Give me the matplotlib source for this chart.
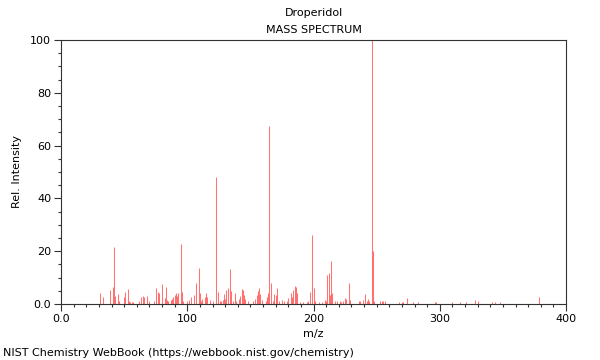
import matplotlib
matplotlib.use("Agg")
import matplotlib.pyplot as plt
from matplotlib.ticker import MultipleLocator, FuncFormatter

# Peak list (m/z, relative intensity %)
MZ = [31, 33, 39, 41, 42, 43, 45, 46, 50, 51, 53, 54, 55, 56, 57,
      62, 63, 65, 66, 68, 70, 74, 75, 77, 78, 80, 82, 83, 84, 85,
      87, 88, 89, 90, 91, 92, 93, 95, 96, 97, 100, 101, 103, 105, 107,
      109, 110, 111, 112, 114, 115, 116, 118, 120, 123, 124, 126, 127, 128, 129,
      130, 131, 132, 134, 135, 136, 138, 139, 141, 142, 143, 144, 145, 146, 148,
      152, 154, 155, 156, 157, 158, 159, 162, 163, 164, 165, 166, 168, 169, 170,
      171, 173, 175, 177, 179, 180, 182, 183, 184, 185, 186, 187, 189, 192, 195,
      196, 197, 199, 200, 201, 204, 207, 209, 210, 211, 212, 213, 214, 215, 217,
      219, 221, 222, 223, 225, 226, 228, 229, 236, 237, 239, 241, 242, 243, 244,
      246, 247, 248, 253, 254, 255, 257, 268, 270, 271, 274, 279, 283, 296, 297,
      310, 316, 321, 328, 330, 341, 344, 348, 379]
INTENSITY = [4.3, 2.5, 5.4, 6.3, 21.6, 3.1, 3.6, 1.0, 2.7, 4.4, 5.6, 1.0, 0.7, 0.8, 0.6,
             1.3, 2.8, 3.2, 2.8, 3.0, 1.0, 1.2, 6.2, 4.4, 4.3, 7.6, 2.2, 6.5, 1.5, 1.3,
             1.5, 2.0, 2.6, 3.4, 4.0, 3.0, 4.0, 22.7, 4.5, 1.0, 1.0, 1.7, 2.5, 3.3, 7.8,
             13.6, 4.0, 1.0, 1.8, 2.5, 4.2, 2.6, 1.5, 1.0, 48.0, 4.5, 1.0, 1.0, 1.5, 3.8,
             2.0, 5.3, 5.9, 13.3, 5.0, 1.0, 4.0, 1.0, 2.0, 3.0, 5.8, 5.3, 3.4, 1.8, 1.0,
             1.0, 2.0, 3.4, 5.0, 6.2, 3.8, 1.5, 1.0, 2.5, 4.0, 67.4, 7.8, 1.0, 3.6, 3.3,
             5.9, 1.0, 1.5, 1.0, 1.3, 2.2, 4.0, 2.5, 5.3, 6.8, 6.3, 4.3, 0.8, 0.8, 0.8,
             1.0, 4.5, 26.1, 5.9, 1.2, 0.7, 0.7, 1.5, 1.3, 11.0, 11.6, 3.4, 16.4, 4.2, 1.0,
             1.0, 1.0, 0.7, 1.0, 2.4, 1.8, 8.1, 1.5, 1.0, 1.0, 1.5, 3.8, 1.0, 1.8, 1.0,
             100.0, 20.2, 1.0, 1.3, 1.3, 1.0, 1.0, 0.7, 0.7, 0.7, 2.1, 0.7, 0.7, 0.7, 0.7,
             0.7, 0.7, 0.7, 1.5, 1.2, 0.7, 0.7, 0.7, 2.6]

TITLE = "Droperidol"
SUBTITLE = "MASS SPECTRUM"
X_LABEL = "m/z"
Y_LABEL = "Rel. Intensity"
FOOTER = "NIST Chemistry WebBook (https://webbook.nist.gov/chemistry)"

FS = 8
AXIS_COLOR = "#333333"


def tick_fmt(v, pos):
    return "0.0" if v == 0 else f"{v:.0f}"


fig = plt.figure(figsize=(6, 3.6), dpi=100)
ax = fig.add_axes([61 / 600, 1 - 304 / 360, 505 / 600, 264 / 360])

ax.vlines(MZ, 0, INTENSITY, colors="#ff0000", linewidth=0.75, alpha=0.55)

ax.set_xlim(0, 400)
ax.set_ylim(0, 100)

ax.xaxis.set_major_locator(MultipleLocator(100))
ax.xaxis.set_minor_locator(MultipleLocator(10))
ax.yaxis.set_major_locator(MultipleLocator(20))
ax.yaxis.set_minor_locator(MultipleLocator(5))
ax.xaxis.set_major_formatter(FuncFormatter(tick_fmt))
ax.yaxis.set_major_formatter(FuncFormatter(tick_fmt))

ax.tick_params(which="major", direction="out", length=5, width=0.8,
               color=AXIS_COLOR, labelsize=FS, pad=2)
ax.tick_params(which="minor", direction="out", length=2.5, width=0.8,
               color=AXIS_COLOR)
for s in ax.spines.values():
    s.set_color(AXIS_COLOR)
    s.set_linewidth(0.8)

ax.set_xlabel(X_LABEL, fontsize=FS, labelpad=4)
ax.set_ylabel(Y_LABEL, fontsize=FS, labelpad=6)

cx = (61 + 566) / 2 / 600
fig.text(cx, 1 - 13 / 360, TITLE, ha="center", va="center", fontsize=FS)
fig.text(cx, 1 - 30 / 360, SUBTITLE, ha="center", va="center", fontsize=FS)
fig.text(3 / 600, 1 - 353 / 360, FOOTER, ha="left", va="center", fontsize=FS)

fig.savefig("out.png", dpi=100)
